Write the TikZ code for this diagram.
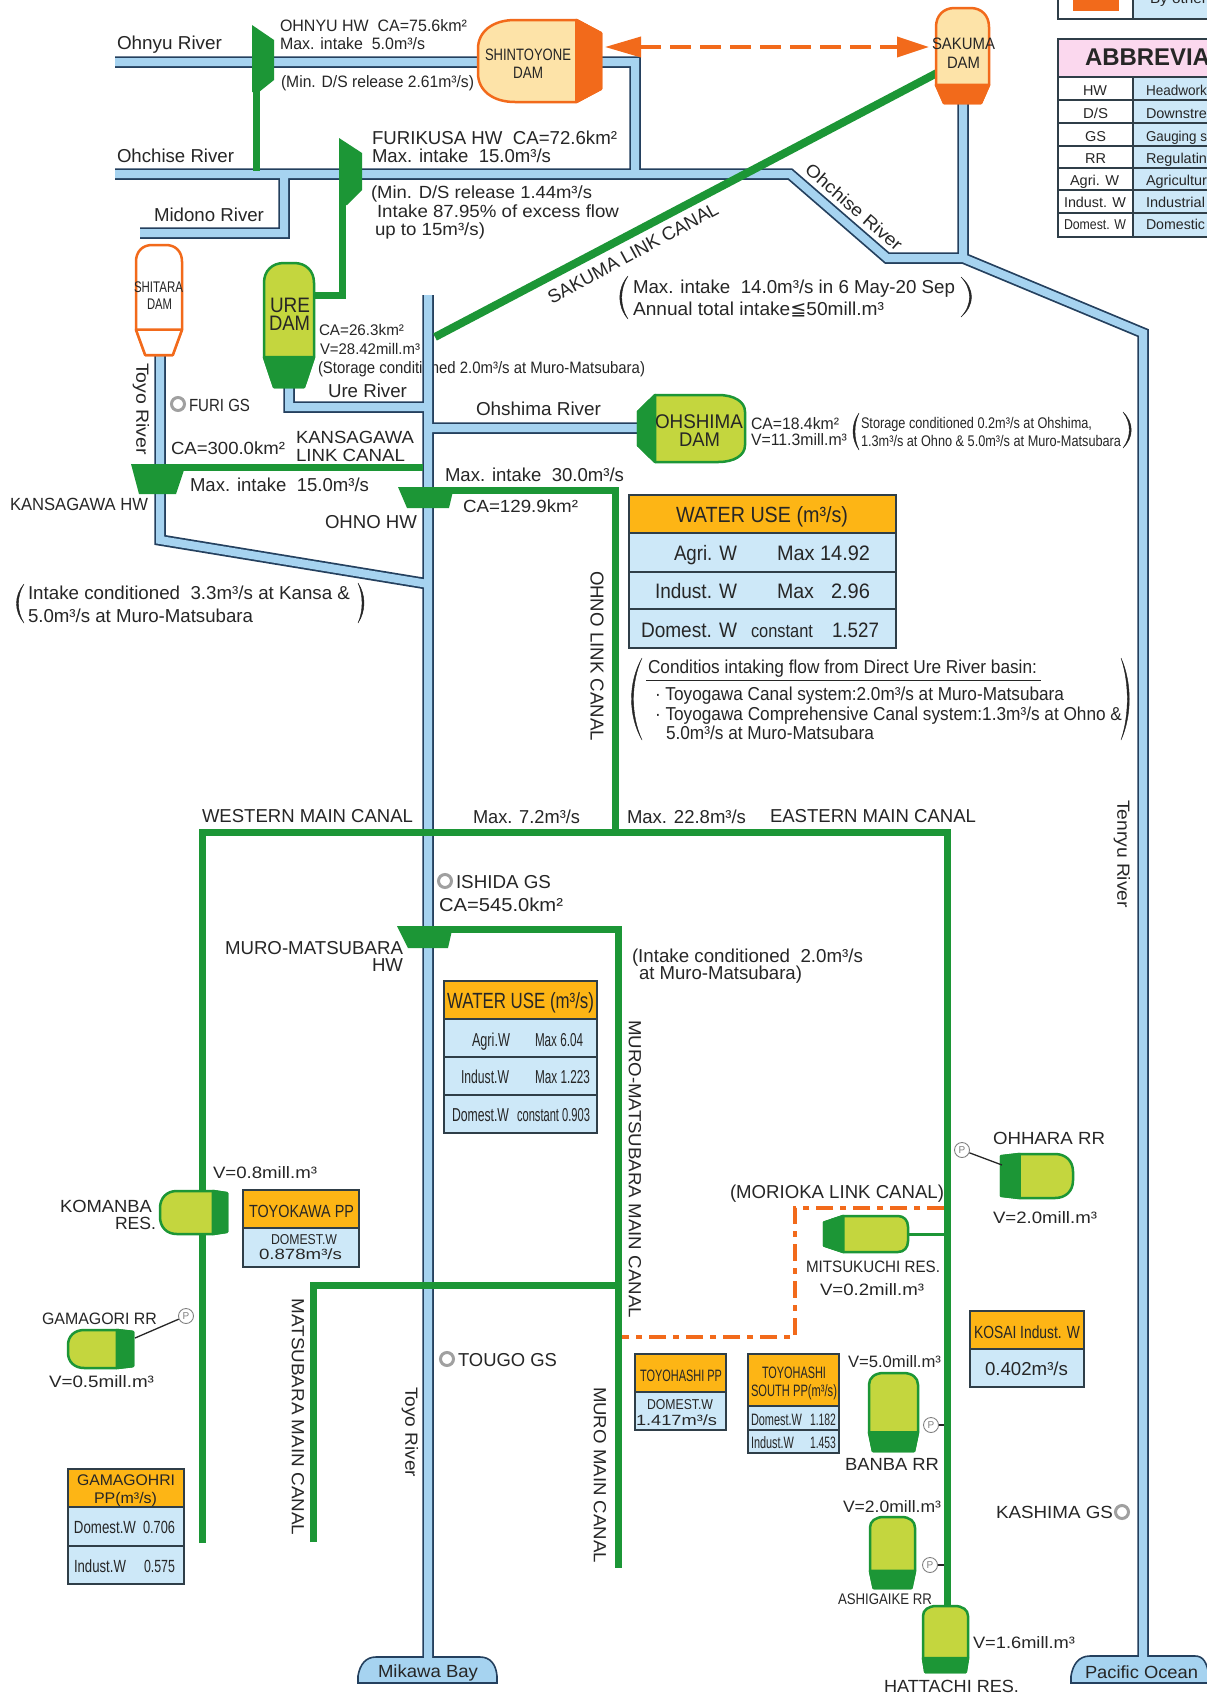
\documentclass[tikz,border=0pt]{standalone}
\usepackage{fontspec}
\setmainfont{Liberation Sans}
\newfontfamily\djv{DejaVu Sans}
\usetikzlibrary{arrows.meta}
\definecolor{cgreen}{HTML}{1C9636}
\definecolor{clime}{HTML}{C4D63E}
\definecolor{corange}{HTML}{F26A1B}
\definecolor{ccream}{HTML}{FDE3A8}
\definecolor{chead}{HTML}{FDB515}
\definecolor{ccell}{HTML}{CDE8F8}
\definecolor{criver}{HTML}{A6D3F0}
\definecolor{cedge}{HTML}{24405E}
\definecolor{cbord}{HTML}{2F3E48}
\definecolor{cpink}{HTML}{FBD8EE}
\definecolor{ctext}{HTML}{262626}
\definecolor{cring}{HTML}{A0A0A0}
\tikzset{
  txt/.style={anchor=base west,inner sep=0pt,outer sep=0pt,text=ctext},
  rtxt/.style={anchor=center,inner sep=0pt,outer sep=0pt,text=ctext},
  riverdark/.style={draw=cedge,line width=11.5pt,line join=miter,miter limit=10},
  riverlight/.style={draw=criver,line width=8pt,line join=miter,miter limit=10},
  canal/.style={draw=cgreen,line width=7pt,line join=miter},
  hwork/.style={fill=cgreen,draw=none},
  gsring/.style={circle,draw=cring,line width=3pt,minimum size=13pt,inner sep=0pt},
  pumpm/.style={circle,draw=gray,line width=.9pt,minimum size=15pt,inner sep=0pt,text=gray,font=\fontsize{10}{10}\selectfont},
  pline/.style={draw=ctext,line width=1.3pt},
  tcell/.style={draw=cbord,line width=1.6pt},
  orangearrow/.style={draw=corange,line width=3.6pt,dash pattern=on 21pt off 9pt,
    {Triangle[length=36pt,width=20pt,fill=corange]}-{Triangle[length=32pt,width=20pt,fill=corange]}},
  orangelink/.style={draw=corange,line width=3.2pt,dash pattern=on 17pt off 7pt on 6pt off 7pt},
}
\newcounter{lab}
\def\fzf{1.1}
\newcommand\lbl[5]{\stepcounter{lab}\edef\mylab{lab\the\value{lab}}\pgfmathsetmacro\fzv{\fzf*#4}%
  \node[txt,font=\fontsize{\fzv}{\fzv}\selectfont] (\mylab) at (#1,#2) {\resizebox{#3pt}{\height}{#5}};}
\newcommand\rlbl[6]{\stepcounter{lab}\edef\mylab{lab\the\value{lab}}\pgfmathsetmacro\fzv{\fzf*#4}%
  \node[rtxt,rotate=#5,font=\fontsize{\fzv}{\fzv}\selectfont] (\mylab) at (#1,#2) {\resizebox{#3pt}{\height}{#6}};}
\newcommand\dparams[4]{\def\dsp{#1}\def\dr{#2}\def\dq{#3}\def\dci{#4}}
\newcommand\greendam{\def\dbody{clime}\def\dcap{cgreen}\def\dline{cgreen}}
\newcommand\orangedam{\def\dbody{ccream}\def\dcap{corange}\def\dline{corange}}
\newcommand\whitedam{\def\dbody{white}\def\dcap{white}\def\dline{corange}}
\newcommand\damshape{%
  \draw[fill=\dbody,draw=\dline,line width=2.5pt,line join=round] (0,\dsp) -- (0,\dq)
    .. controls (0,{.4*\dq}) and ({.4*\dr},0) .. (\dr,0) -- ({1-\dr},0)
    .. controls ({1-.4*\dr},0) and (1,{.4*\dq}) .. (1,\dq) -- (1,\dsp) -- ({1-\dci},1) -- (\dci,1) -- cycle;
  \draw[fill=\dcap,draw=\dline,line width=2.5pt,line join=round] (0,\dsp) -- (1,\dsp) -- ({1-\dci},1) -- (\dci,1) -- cycle;}
% vertical: rounded top, cap at bottom
\newcommand\damV[5]{\pgfmathsetmacro\dW{#3-#2}\pgfmathsetmacro\dH{#5-#4}%
  \begin{scope}[shift={(#2,#4)},x={(\dW pt,0pt)},y={(0pt,-\dH pt)}]\damshape\coordinate (#1) at (.5,.5);\end{scope}}
% rounded left, cap right
\newcommand\damR[5]{\pgfmathsetmacro\dW{#3-#2}\pgfmathsetmacro\dH{#5-#4}%
  \begin{scope}[shift={(#2,#4)},x={(0pt,-\dH pt)},y={(\dW pt,0pt)}]\damshape\coordinate (#1) at (.5,.5);\end{scope}}
% rounded right, cap left
\newcommand\damL[5]{\pgfmathsetmacro\dW{#3-#2}\pgfmathsetmacro\dH{#5-#4}%
  \begin{scope}[shift={(#3,#4)},x={(0pt,-\dH pt)},y={(-\dW pt,0pt)}]\damshape\coordinate (#1) at (.5,.5);\end{scope}}
\newcommand\cellbox[5]{\draw[tcell,fill=#5] (#1,#2) rectangle (#3,#4);}
\newcommand\lparenth[4]{\filldraw[ctext,line width=.4pt] (#2,#3) .. controls (#1,{#3+.3*(#4-#3)}) and (#1,{#4-.3*(#4-#3)}) .. (#2,#4)
   .. controls ({#1+2.6},{#4-.3*(#4-#3)}) and ({#1+2.6},{#3+.3*(#4-#3)}) .. (#2,#3) -- cycle;}
\newcommand\rparenth[4]{\filldraw[ctext,line width=.4pt] (#1,#3) .. controls (#2,{#3+.3*(#4-#3)}) and (#2,{#4-.3*(#4-#3)}) .. (#1,#4)
   .. controls ({#2-2.6},{#4-.3*(#4-#3)}) and ({#2-2.6},{#3+.3*(#4-#3)}) .. (#1,#3) -- cycle;}
\begin{document}
\begin{tikzpicture}[x=1pt,y=-1pt]
\path[use as bounding box] (0,0) rectangle (1207,1697);
\clip (0,0) rectangle (1207,1697);
\fill[white] (0,0) rectangle (1207,1697);
% ---- named points of rivers
\coordinate (ohnyuW) at (115,62);
\coordinate (ohnyuC) at (635,62);
\coordinate (ohcJ) at (635,174);
\coordinate (ohcW) at (115,174);
\coordinate (ohcA) at (790,174);
\coordinate (ohcB) at (887,258);
\coordinate (tenJ) at (963,258);
\coordinate (tenA) at (1143,333);
\coordinate (tenZ) at (1143,1664);
\coordinate (skS) at (963,100);
\coordinate (midW) at (140,233);
\coordinate (midC) at (284,233);
\coordinate (midJ) at (284,174);
\coordinate (ureS) at (289,385);
\coordinate (ureC) at (289,407);
\coordinate (ureJ) at (428,407);
\coordinate (toyoN) at (428,295);
\coordinate (toyoZ) at (428,1664);
\coordinate (oshJ) at (428,428);
\coordinate (oshE) at (645,428);
\coordinate (shS) at (160,353);
\coordinate (shC) at (160,540);
\coordinate (shJ) at (428,584);
% label hidden in part by the river
\lbl{318}{373}{327}{15}{(Storage conditioned 2.0m³/s at Muro-Matsubara)}
% ---- rivers
\newcommand\riverpaths{(ohnyuW) -- (ohnyuC) -- (ohcJ)
  (ohcW) -- (ohcA) -- (ohcB) -- (tenJ) -- (tenA) -- (tenZ)
  (skS) -- (tenJ)
  (midW) -- (midC) -- (midJ)
  (ureS) -- (ureC) -- (ureJ)
  (toyoN) -- (toyoZ)
  (oshJ) -- (oshE)
  (shS) -- (shC) -- (shJ)}
\draw[riverdark] \riverpaths;
\draw[draw=cedge,fill=criver,line width=1.6pt] (358,1683) -- (358,1676) .. controls (360,1664) and (366,1657) .. (376,1657) -- (480,1657) .. controls (490,1657) and (496,1664) .. (497,1676) -- (497,1683) -- cycle;
\draw[draw=cedge,fill=criver,line width=1.6pt] (1071,1683) -- (1071,1676) .. controls (1073,1664) and (1079,1656) .. (1090,1656) -- (1195,1656) .. controls (1203,1656) and (1207,1662) .. (1209,1676) -- (1209,1683) -- cycle;
\draw[riverlight] \riverpaths;
% ---- canals
\coordinate (hw1s) at (256,90);
\coordinate (hw1j) at (256,171);
\coordinate (urE) at (312,295);
\coordinate (urC) at (342,295);
\coordinate (hw2s) at (342,203);
\coordinate (skL1) at (435,337);
\coordinate (skL2) at (937,73);
\coordinate (kanW) at (165,467);
\coordinate (kanE) at (423,467);
\coordinate (ohnW) at (430,490);
\coordinate (ohnC) at (615,490);
\coordinate (ohnS) at (615,832);
\coordinate (wmS) at (202,1543);
\coordinate (wmC) at (202,832);
\coordinate (emC) at (947,832);
\coordinate (emS) at (947,1610);
\coordinate (muW) at (425,929);
\coordinate (muC) at (618,929);
\coordinate (muS) at (618,1568);
\coordinate (maS) at (313,1542);
\coordinate (maC) at (313,1285);
\coordinate (maE) at (618,1285);
\draw[canal] (hw1s) -- (hw1j);
\draw[canal] (urE) -- (urC) -- (hw2s);
\draw[canal,line width=8pt] (skL1) -- (skL2);
\draw[canal] (kanW) -- (kanE);
\draw[canal] (ohnW) -- (ohnC) -- (ohnS);
\draw[canal] (wmS) -- (wmC) -- (emC) -- (emS);
\draw[canal] (muW) -- (muC) -- (muS);
\draw[canal] (maS) -- (maC) -- (maE);
% ---- headworks
\fill[hwork] (252,25) -- (274,40) -- (274,80) -- (259,92) -- (252,92) -- cycle;
\fill[hwork] (339,138) -- (362,153) -- (362,190) -- (347,205) -- (339,205) -- cycle;
\fill[hwork] (131,464) -- (186,464) -- (176,494) -- (139,494) -- cycle;
\fill[hwork] (398,487) -- (454,487) -- (449,508) -- (407,508) -- cycle;
\fill[hwork] (397,926) -- (453,926) -- (448,948) -- (408,948) -- cycle;
% ---- dams
\whitedam\dparams{.77}{.35}{.15}{.2}\damV{shitara}{136}{182}{245}{355}
\greendam\dparams{.76}{.4}{.16}{.2}\damV{ure}{264}{314}{263}{387}
\orangedam\dparams{.8}{.35}{.3}{.16}\damR{shintoyone}{478}{601}{20}{102}
\orangedam\dparams{.81}{.35}{.2}{.15}\damV{sakuma}{936}{989}{8}{103}
\greendam
\dparams{.84}{.25}{.25}{.25}\damL{ohshima}{638}{745}{395}{462}
\dparams{.79}{.4}{.25}{.05}\damR{komanba}{160}{227}{1191}{1234}
\dparams{.75}{.4}{.25}{.05}\damR{gamagori}{68}{133}{1330}{1368}
\dparams{.74}{.4}{.25}{.05}\damL{ohhara}{1001}{1073}{1154}{1198}
\dparams{.77}{.3}{.12}{.18}\damL{mitsukuchi}{824}{908}{1216}{1252}
\dparams{.76}{.3}{.15}{.08}\damV{banba}{869}{918}{1373}{1451}
\dparams{.76}{.3}{.15}{.08}\damV{ashigaike}{870}{915}{1517}{1588}
\dparams{.79}{.3}{.15}{.05}\damV{hattachi}{923}{968}{1606}{1672}
% ---- orange links
\coordinate (arW) at (605,47);
\coordinate (arE) at (929,47);
\draw[orangearrow] (arW) -- (arE);
\coordinate (moE) at (944,1208);
\coordinate (moC1) at (795,1208);
\coordinate (moC2) at (795,1337);
\coordinate (moW) at (622,1337);
\draw[orangelink] (moE) -- (moC1) -- (moC2) -- (moW);
\coordinate (mitE) at (908,1234);
\coordinate (mitJ) at (945,1234);
\draw[cgreen,line width=3pt] (mitE) -- (mitJ);
% ---- markers
\node[gsring] (gsFuri) at (178,404) {};
\node[gsring] (gsIshida) at (445,881) {};
\node[gsring] (gsTougo) at (447,1359) {};
\node[gsring] (gsKashima) at (1122,1512) {};
\node[pumpm] (pOhhara) at (962,1150) {P};
\node[pumpm] (pGamagori) at (186,1316) {P};
\node[pumpm] (pBanba) at (931,1425) {P};
\node[pumpm] (pAshigaike) at (930,1565) {P};
\coordinate (ohW) at (1002,1165);
\coordinate (gaE) at (135,1338);
\coordinate (baJ) at (944,1425);
\coordinate (asJ) at (944,1565);
\draw[pline] (pOhhara) -- (ohW);
\draw[pline] (pGamagori) -- (gaE);
\draw[pline] (pBanba) -- (baJ);
\draw[pline] (pAshigaike) -- (asJ);
% ---- legend and abbreviation table
\cellbox{1058}{-6}{1133}{19}{white}
\cellbox{1133}{-6}{1215}{19}{ccell}
\fill[corange] (1073,-2) rectangle (1119,11);
\lbl{1150}{4}{57}{13}{By other}
\cellbox{1058}{39}{1215}{77}{cpink}
\lbl{1085}{65}{125}{22}{\bfseries ABBREVIA}
\cellbox{1058}{77}{1133}{100}{white}\cellbox{1133}{77}{1215}{100}{ccell}
\cellbox{1058}{100}{1133}{123}{white}\cellbox{1133}{100}{1215}{123}{ccell}
\cellbox{1058}{123}{1133}{146}{white}\cellbox{1133}{123}{1215}{146}{ccell}
\cellbox{1058}{146}{1133}{168}{white}\cellbox{1133}{146}{1215}{168}{ccell}
\cellbox{1058}{168}{1133}{190}{white}\cellbox{1133}{168}{1215}{190}{ccell}
\cellbox{1058}{190}{1133}{213}{white}\cellbox{1133}{190}{1215}{213}{ccell}
\cellbox{1058}{213}{1133}{237}{white}\cellbox{1133}{213}{1215}{237}{ccell}
\lbl{1083}{95}{24}{13}{HW}
\lbl{1083}{118}{25}{13}{D/S}
\lbl{1085}{141}{21}{13}{GS}
\lbl{1085}{163}{21}{13}{RR}
\lbl{1070}{185}{49}{13}{Agri. W}
\lbl{1064}{207}{62}{13}{Indust. W}
\lbl{1064}{229}{62}{13}{Domest. W}
\lbl{1146}{95}{61}{13}{Headwork}
\lbl{1146}{118}{61}{13}{Downstre}
\lbl{1146}{141}{61}{13}{Gauging s}
\lbl{1146}{163}{61}{13}{Regulatin}
\lbl{1146}{185}{61}{13}{Agricultur}
\lbl{1146}{207}{59}{13}{Industrial}
\lbl{1146}{229}{59}{13}{Domestic}
% ---- water use tables
\cellbox{629}{495}{896}{533}{chead}
\cellbox{629}{533}{896}{572}{ccell}
\cellbox{629}{572}{896}{609}{ccell}
\cellbox{629}{609}{896}{648}{ccell}
\lbl{676}{522}{172}{20}{WATER USE (m³/s)}
\lbl{674}{560}{63}{19}{Agri. W}
\lbl{777}{560}{93}{19}{Max 14.92}
\lbl{655}{598}{82}{19}{Indust. W}
\lbl{777}{598}{37}{19}{Max}
\lbl{831}{598}{39}{19}{2.96}
\lbl{641}{637}{96}{19}{Domest. W}
\lbl{751}{637}{62}{17}{constant}
\lbl{832}{637}{47}{19}{1.527}
\cellbox{444}{981}{597}{1019}{chead}
\cellbox{444}{1019}{597}{1057}{ccell}
\cellbox{444}{1057}{597}{1095}{ccell}
\cellbox{444}{1095}{597}{1133}{ccell}
\lbl{447}{1008}{147}{20}{WATER USE (m³/s)}
\lbl{472}{1046}{38}{17}{Agri.W}
\lbl{535}{1046}{48}{17}{Max 6.04}
\lbl{461}{1083}{48}{17}{Indust.W}
\lbl{535}{1083}{55}{17}{Max 1.223}
\lbl{452}{1121}{57}{17}{Domest.W}
\lbl{517}{1121}{73}{17}{constant 0.903}
\cellbox{243}{1190}{359}{1228}{chead}
\cellbox{243}{1228}{359}{1267}{ccell}
\lbl{249}{1217}{105}{16}{TOYOKAWA PP}
\lbl{271}{1244}{66}{13}{DOMEST.W}
\lbl{259}{1259}{83}{13.5}{0.878m³/s}
\cellbox{68}{1469}{184}{1507}{chead}
\cellbox{68}{1507}{184}{1546}{ccell}
\cellbox{68}{1546}{184}{1584}{ccell}
\lbl{77}{1485}{98}{14}{GAMAGOHRI}
\lbl{94}{1503}{63}{14}{PP(m³/s)}
\lbl{74}{1533}{62}{16}{Domest.W}
\lbl{143}{1533}{32}{16}{0.706}
\lbl{74}{1572}{52}{16}{Indust.W}
\lbl{144}{1572}{31}{16}{0.575}
\cellbox{970}{1311}{1084}{1349}{chead}
\cellbox{970}{1349}{1084}{1387}{ccell}
\lbl{974}{1338}{106}{16}{KOSAI Indust. W}
\lbl{985}{1375}{83}{17}{0.402m³/s}
\cellbox{635}{1354}{726}{1392}{chead}
\cellbox{635}{1392}{726}{1430}{ccell}
\lbl{640}{1381}{82}{15}{TOYOHASHI PP}
\lbl{647}{1409}{66}{13}{DOMEST.W}
\lbl{636}{1425}{81}{13.5}{1.417m³/s}
\cellbox{748}{1354}{839}{1406}{chead}
\cellbox{748}{1406}{839}{1430}{ccell}
\cellbox{748}{1430}{839}{1453}{ccell}
\lbl{762}{1378}{64}{15}{TOYOHASHI}
\lbl{751}{1396}{86}{15}{SOUTH PP(m³/s)}
\lbl{751}{1425}{51}{15}{Domest.W}
\lbl{810}{1425}{26}{15}{1.182}
\lbl{751}{1448}{43}{15}{Indust.W}
\lbl{810}{1448}{26}{15}{1.453}
% ---- river and canal labels
\lbl{117}{49}{105}{17}{Ohnyu River}
\lbl{117}{162}{117}{17}{Ohchise River}
\lbl{154}{221}{110}{17}{Midono River}
\lbl{328}{397}{79}{17}{Ure River}
\lbl{476}{415}{125}{17}{Ohshima River}
\rlbl{141}{409}{92}{16}{-90}{Toyo River}
\rlbl{410}{1432}{90}{16}{-90}{Toyo River}
\rlbl{1122}{854}{108}{16}{-90}{Tenryu River}
\rlbl{854}{207}{122}{16}{-41}{Ohchise River}
\rlbl{633}{253}{191}{17}{28.5}{SAKUMA LINK CANAL}
\rlbl{597}{656}{170}{17}{-90}{OHNO LINK CANAL}
\rlbl{635}{1169}{298}{16}{-90}{MURO-MATSUBARA MAIN CANAL}
\rlbl{298}{1417}{237}{16}{-90}{MATSUBARA MAIN CANAL}
\rlbl{600}{1475}{176}{16}{-90}{MURO MAIN CANAL}
\lbl{296}{443}{118}{16}{KANSAGAWA}
\lbl{296}{461}{109}{16}{LINK CANAL}
\lbl{202}{822}{211}{17}{WESTERN MAIN CANAL}
\lbl{770}{822}{206}{17}{EASTERN MAIN CANAL}
\lbl{473}{823}{107}{17}{Max. 7.2m³/s}
\lbl{627}{823}{119}{17}{Max. 22.8m³/s}
\lbl{730}{1198}{214}{17}{(MORIOKA LINK CANAL)}
% ---- headwork and dam labels
\lbl{280}{31}{187}{15}{OHNYU HW\ \ CA=75.6km²}
\lbl{280}{49}{145}{15}{Max. intake\ \ 5.0m³/s}
\lbl{281}{87}{193}{15}{(Min. D/S release 2.61m³/s)}
\lbl{485}{60}{86}{15}{SHINTOYONE}
\lbl{513}{78}{30}{15}{DAM}
\lbl{372}{144}{245}{17}{FURIKUSA HW\ \ CA=72.6km²}
\lbl{372}{162}{179}{17}{Max. intake\ \ 15.0m³/s}
\lbl{371}{198}{221}{16}{(Min. D/S release 1.44m³/s}
\lbl{377}{217}{242}{16}{Intake 87.95\% of excess flow}
\lbl{375}{235}{110}{16}{up to 15m³/s)}
\lbl{134}{292}{49}{14}{SHITARA}
\lbl{147}{309}{25}{14}{DAM}
\lbl{270}{312}{40}{19}{URE}
\lbl{269}{330}{41}{19}{DAM}
\lbl{319}{335}{85}{14}{CA=26.3km²}
\lbl{320}{354}{100}{14}{V=28.42mill.m³}
\lbl{189}{411}{61}{16}{FURI GS}
\lbl{932}{49}{63}{15}{SAKUMA}
\lbl{947}{68}{33}{15}{DAM}
\lparenth{617}{628}{276}{319}
\lbl{633}{293}{322}{17}{Max. intake\ \ 14.0m³/s in 6 May-20 Sep}
\lbl{633}{315}{251}{17}{Annual total intake{\djv ≦}50mill.m³}
\rparenth{961}{975}{277}{317}
\lbl{655}{428}{88}{18}{OHSHIMA}
\lbl{679}{446}{41}{18}{DAM}
\lbl{751}{429}{88}{15}{CA=18.4km²}
\lbl{751}{445}{96}{15}{V=11.3mill.m³}
\lparenth{851}{859}{413}{450}
\lbl{861}{428}{231}{14}{Storage conditioned 0.2m³/s at Ohshima,}
\lbl{861}{446}{260}{14}{1.3m³/s at Ohno \& 5.0m³/s at Muro-Matsubara}
\rparenth{1123}{1134}{412}{448}
\lbl{171}{454}{114}{16}{CA=300.0km²}
\lbl{190}{491}{179}{17}{Max. intake\ \ 15.0m³/s}
\lbl{10}{510}{138}{16}{KANSAGAWA HW}
\lbl{445}{481}{179}{17}{Max. intake\ \ 30.0m³/s}
\lbl{463}{512}{115}{16}{CA=129.9km²}
\lbl{325}{528}{92}{17}{OHNO HW}
\lparenth{14}{24}{584}{623}
\lbl{28}{599}{322}{17}{Intake conditioned\ \ 3.3m³/s at Kansa \&}
\lbl{28}{622}{225}{17}{5.0m³/s at Muro-Matsubara}
\rparenth{358}{366}{583}{623}
\lparenth{628}{642}{658}{740}
\lbl{648}{673}{389}{17}{Conditios intaking flow from Direct Ure River basin:}
\coordinate (ulW) at (646,680);
\coordinate (ulE) at (1041,680);
\draw[ctext,line width=1pt] (ulW) -- (ulE);
\lbl{655}{700}{409}{17}{· Toyogawa Canal system:2.0m³/s at Muro-Matsubara}
\lbl{655}{720}{467}{17}{· Toyogawa Comprehensive Canal system:1.3m³/s at Ohno \&}
\lbl{666}{739}{208}{17}{5.0m³/s at Muro-Matsubara}
\rparenth{1121}{1132}{658}{740}
\lbl{456}{888}{95}{17}{ISHIDA GS}
\lbl{439}{911}{124}{17}{CA=545.0km²}
\lbl{225}{954}{178}{17}{MURO-MATSUBARA}
\lbl{372}{971}{31}{17}{HW}
\lbl{632}{962}{231}{17}{(Intake conditioned\ \ 2.0m³/s}
\lbl{639}{979}{163}{17}{at Muro-Matsubara)}
\lbl{213}{1178}{104}{15}{V=0.8mill.m³}
\lbl{60}{1212}{92}{16}{KOMANBA}
\lbl{115}{1229}{41}{16}{RES.}
\lbl{42}{1324}{115}{15}{GAMAGORI RR}
\lbl{49}{1387}{105}{15}{V=0.5mill.m³}
\lbl{458}{1366}{99}{17}{TOUGO GS}
\lbl{993}{1144}{112}{16}{OHHARA RR}
\lbl{993}{1223}{104}{15}{V=2.0mill.m³}
\lbl{806}{1272}{134}{15}{MITSUKUCHI RES.}
\lbl{820}{1295}{104}{15}{V=0.2mill.m³}
\lbl{848}{1367}{93}{15}{V=5.0mill.m³}
\lbl{845}{1470}{94}{16}{BANBA RR}
\lbl{843}{1512}{98}{15}{V=2.0mill.m³}
\lbl{838}{1604}{94}{14}{ASHIGAIKE RR}
\lbl{973}{1648}{102}{15}{V=1.6mill.m³}
\lbl{884}{1692}{135}{16}{HATTACHI RES.}
\lbl{996}{1518}{117}{16}{KASHIMA GS}
\lbl{378}{1677}{100}{16}{Mikawa Bay}
\lbl{1085}{1678}{113}{16}{Pacific Ocean}
\end{tikzpicture}
\end{document}
